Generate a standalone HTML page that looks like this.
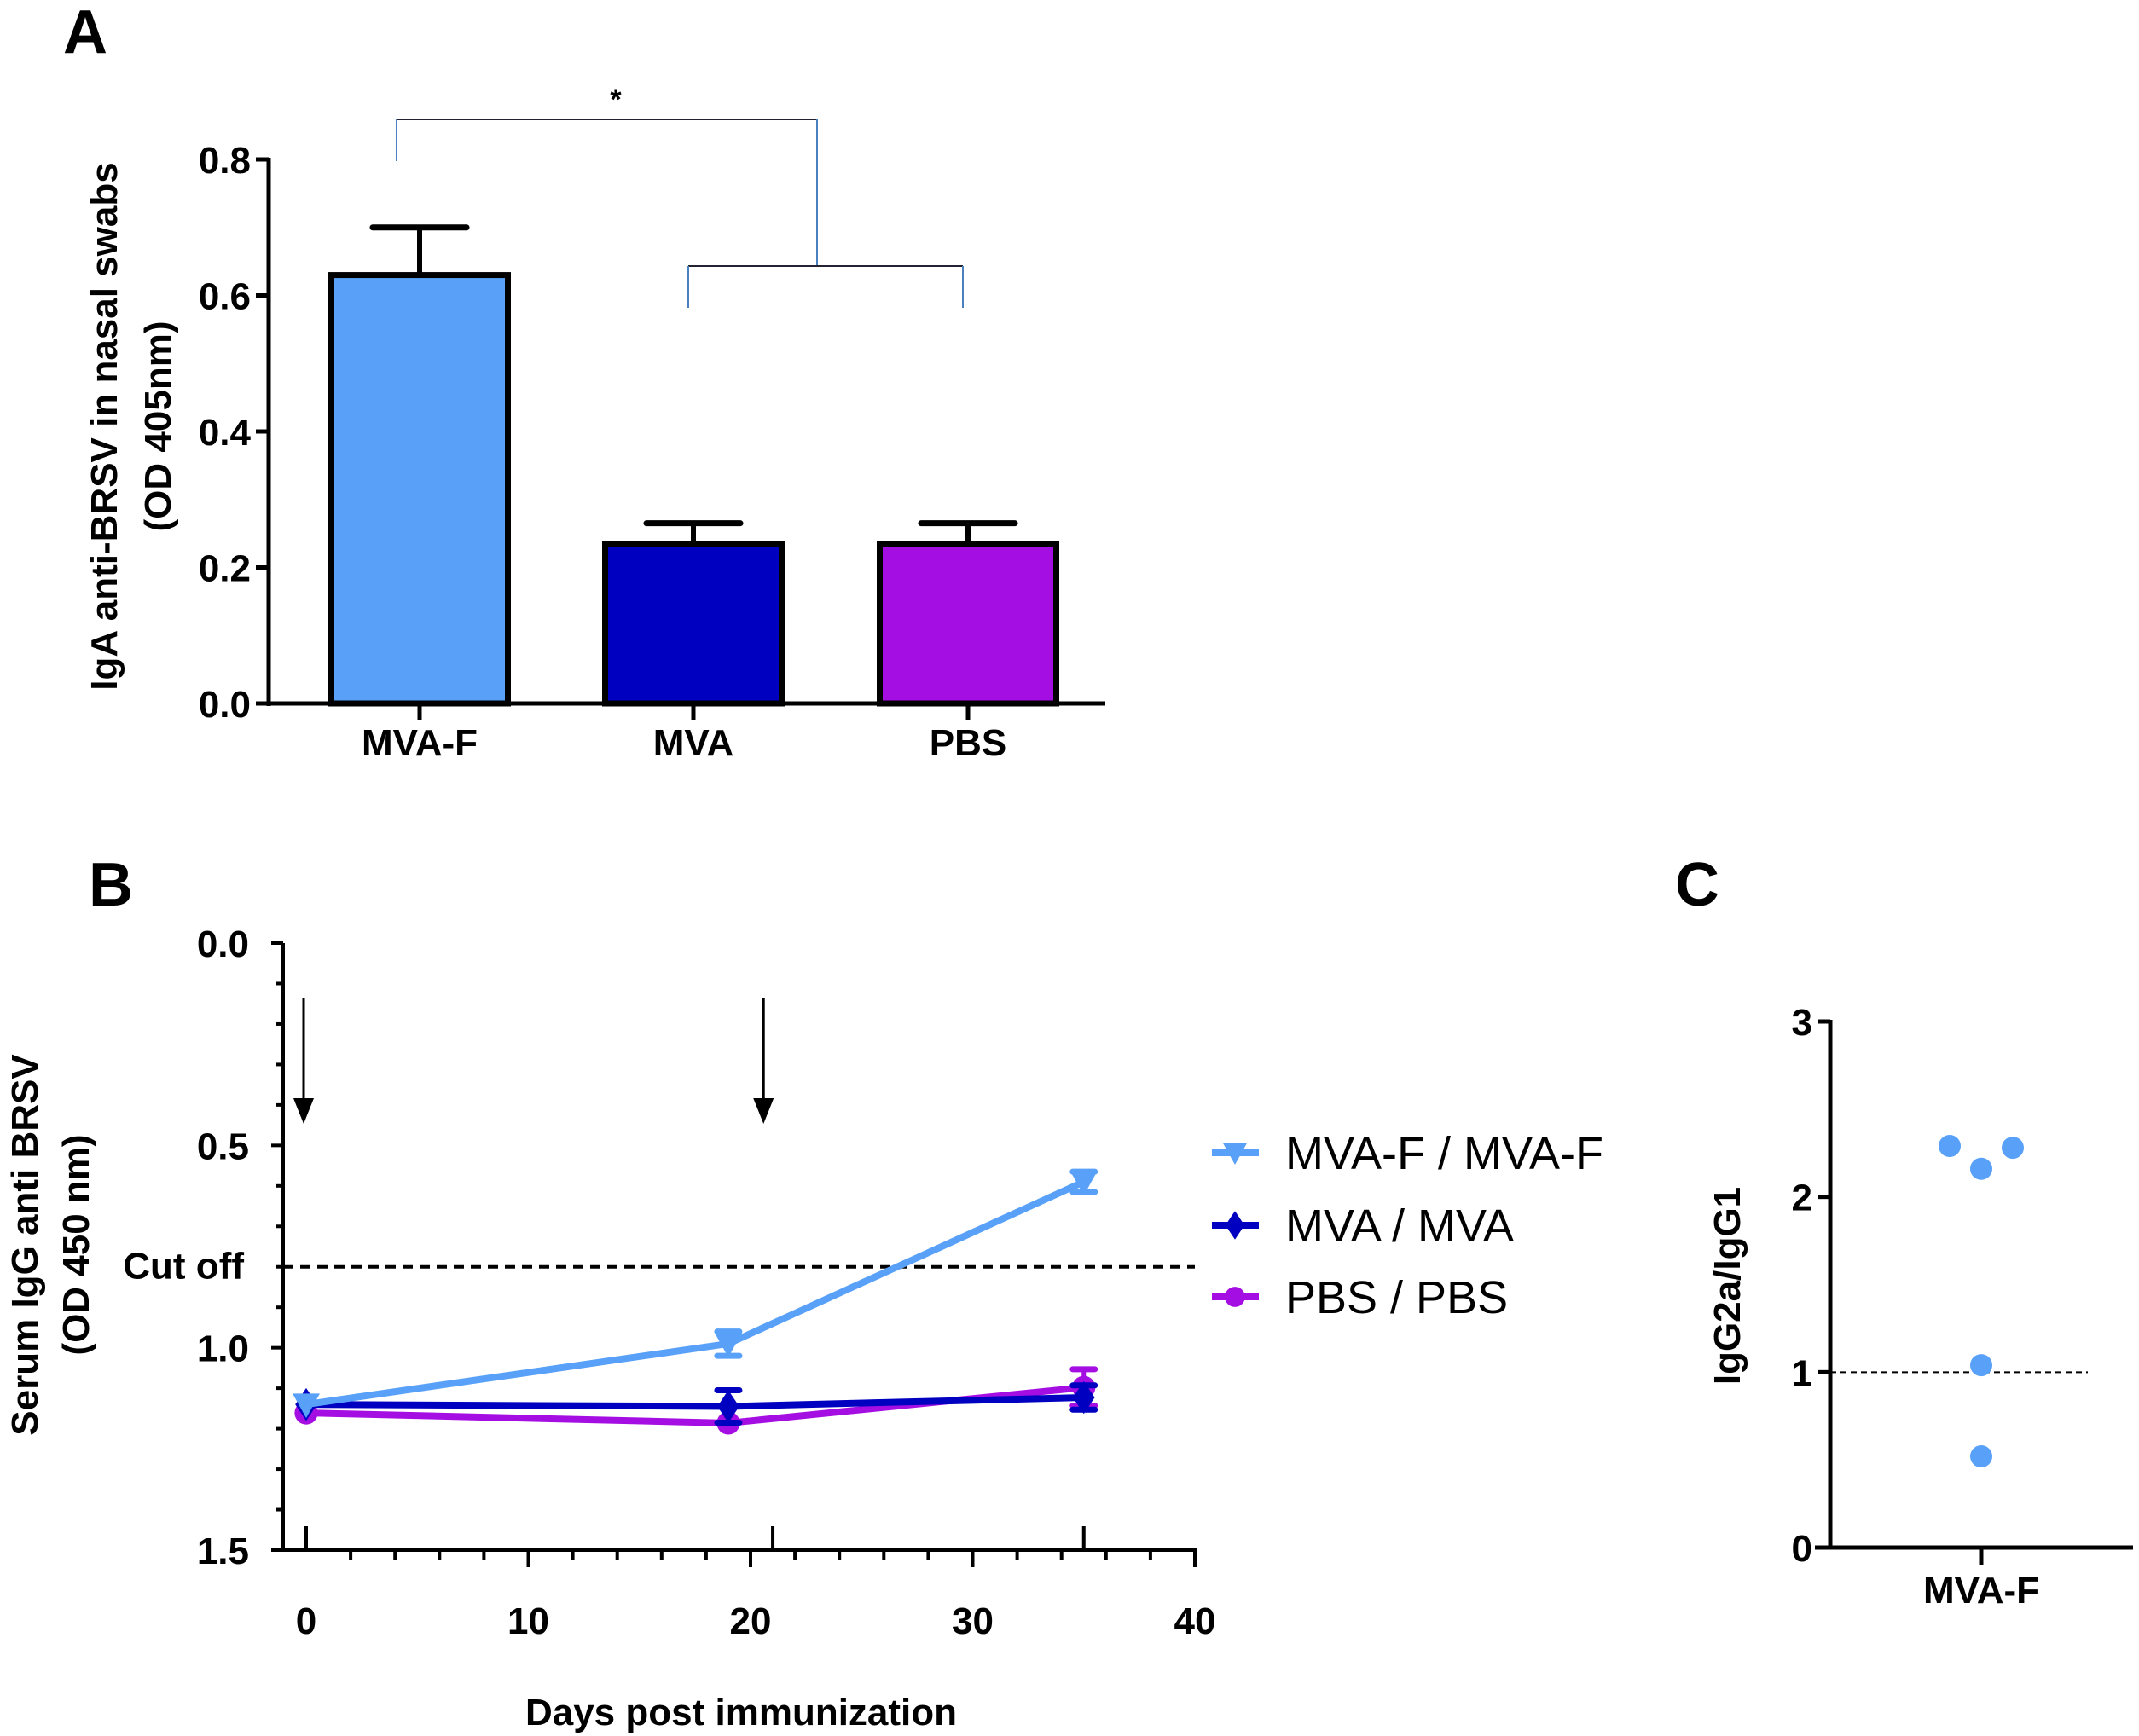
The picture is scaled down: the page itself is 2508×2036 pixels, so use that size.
<!DOCTYPE html>
<html><head><meta charset="utf-8"><style>
html,body{margin:0;padding:0;background:#fff;}
svg{display:block;font-family:"Liberation Sans",Arial,sans-serif;}
.t{font-weight:bold;font-size:44px;}
</style></head><body>
<svg id="fig" width="2508" height="2036" viewBox="0 0 2508 2036" xmlns="http://www.w3.org/2000/svg">
<g id="A"></g>
<g id="B"></g>
<g id="C"></g>
</svg>
<script>
// Panel A data
const aCategories=["MVA-F","MVA","PBS"];
const aMeans=[0.63,0.235,0.235];
const aErrors=[0.07,0.03,0.03];
const aTicks=[0,0.2,0.4,0.6,0.8];
const aTickLabels=["0.0","0.2","0.4","0.6","0.8"];
// Panel B data
const bDays=[0,19,35];
const bSeriesNames=["MVA-F / MVA-F","MVA / MVA","PBS / PBS"];
const bMvaF=[1.14,0.99,0.59];
const bMvaFErr=[0.005,0.03,0.025];
const bMva=[1.14,1.145,1.123];
const bMvaErr=[0.005,0.04,0.03];
const bPbs=[1.161,1.186,1.098];
const bPbsErr=[0.005,0.01,0.045];
const bCutoff=0.8;
const bXTicks=[0,10,20,30,40];
const bYTicks=[0,0.5,1.0,1.5];
const bYTickLabels=["0.0","0.5","1.0","1.5"];
const bArrowDays=[0,20.7];
// Panel C data
const cValues=[2.29,2.16,2.28,1.04,0.52];
const cJitter=[-1,0,1,0,0];
const cTicks=[0,1,2,3];
const cRef=1;

const NS="http://www.w3.org/2000/svg";
function mk(parent,tag,attrs,text){const e=document.createElementNS(NS,tag);for(const k in attrs)e.setAttribute(k,attrs[k]);if(text!==undefined)e.textContent=text;parent.appendChild(e);return e;}
const cols=["#58a0f8","#0000c0","#a50ee2"];

// ---------- Panel A ----------
(function(){
const g=document.getElementById('A');
const y=v=>825-v*(825-187)/0.8;
const cx=[492,813,1135], bw=215;
let e=mk(g,'text',{x:100,y:62,'font-size':72,'font-weight':'bold','text-anchor':'middle'},'A');

e=mk(g,'line',{x1:315,y1:185,x2:315,y2:828,stroke:'#000','stroke-width':5});

e=mk(g,'line',{x1:312,y1:825,x2:1296,y2:825,stroke:'#000','stroke-width':5});

aTicks.forEach((t,i)=>{
 mk(g,'line',{x1:300,y1:y(t),x2:315,y2:y(t),stroke:'#000','stroke-width':5});
 e=mk(g,'text',{x:294,y:y(t)+16,'text-anchor':'end',class:'t'},aTickLabels[i]);
 
});
aCategories.forEach((c,i)=>{
 const top=y(aMeans[i]);
 mk(g,'line',{x1:cx[i],y1:top,x2:cx[i],y2:y(aMeans[i]+aErrors[i]),stroke:'#000','stroke-width':6});
 mk(g,'line',{x1:cx[i]-55,y1:y(aMeans[i]+aErrors[i]),x2:cx[i]+55,y2:y(aMeans[i]+aErrors[i]),stroke:'#000','stroke-width':7,'stroke-linecap':'round'});
 e=mk(g,'rect',{x:cx[i]-bw/2+4,y:top,width:bw-8,height:825-top,fill:cols[i],stroke:'#000','stroke-width':7});
 
 mk(g,'line',{x1:cx[i],y1:825,x2:cx[i],y2:845,stroke:'#000','stroke-width':5});
 e=mk(g,'text',{x:cx[i],y:886,'text-anchor':'middle',class:'t'},c);
 
});
const bl='#4a7fc0';
mk(g,'line',{x1:465,y1:189,x2:465,y2:140,stroke:bl,'stroke-width':2});
mk(g,'line',{x1:465,y1:140,x2:958,y2:140,stroke:'#223','stroke-width':2});
mk(g,'line',{x1:958,y1:140,x2:958,y2:312,stroke:bl,'stroke-width':2});
mk(g,'line',{x1:807,y1:312,x2:1129,y2:312,stroke:'#223','stroke-width':2});
mk(g,'line',{x1:807,y1:312,x2:807,y2:361,stroke:bl,'stroke-width':2});
mk(g,'line',{x1:1129,y1:312,x2:1129,y2:361,stroke:bl,'stroke-width':2});
e=mk(g,'text',{x:722,y:128,'text-anchor':'middle','font-size':34,'font-weight':'bold'},'*');

e=mk(g,'text',{transform:'translate(137,500) rotate(-90)','text-anchor':'middle',class:'t','font-size':46},'IgA anti-BRSV in nasal swabs');

e=mk(g,'text',{transform:'translate(200,500) rotate(-90)','text-anchor':'middle',class:'t','font-size':46},'(OD 405nm)');

})();

// ---------- Panel B ----------
(function(){
const g=document.getElementById('B');
const x=d=>359+d*(1401-359)/40;
const y=v=>1106+v*(1818-1106)/1.5;
let e=mk(g,'text',{x:130,y:1062,'font-size':72,'font-weight':'bold','text-anchor':'middle'},'B');

e=mk(g,'line',{x1:332,y1:1106,x2:332,y2:1820,stroke:'#000','stroke-width':4});

e=mk(g,'line',{x1:320,y1:1818,x2:1403,y2:1818,stroke:'#000','stroke-width':4});

for(let v=0;v<=1.5001;v+=0.1){mk(g,'line',{x1:Math.abs(v*2-Math.round(v*2))<0.01?318:324,y1:y(v),x2:332,y2:y(v),stroke:'#000','stroke-width':4});}
bYTicks.forEach((t,i)=>{e=mk(g,'text',{x:292,y:y(t)+16,'text-anchor':'end',class:'t'},bYTickLabels[i]);
 });
for(let d=2;d<=40;d+=2){mk(g,'line',{x1:x(d),y1:1818,x2:x(d),y2:d%10===0?1838:1830,stroke:'#000','stroke-width':4});}
bXTicks.forEach(t=>{e=mk(g,'text',{x:x(t),y:1916,'text-anchor':'middle',class:'t'},String(t));
 });
[0,21,35].forEach(d=>mk(g,'line',{x1:x(d),y1:1790,x2:x(d),y2:1818,stroke:'#000','stroke-width':4}));
bArrowDays.forEach(d=>{mk(g,'line',{x1:x(d)-3,y1:1171,x2:x(d)-3,y2:1300,stroke:'#000','stroke-width':3});
 e=mk(g,'polygon',{points:`${x(d)-15},1288 ${x(d)+9},1288 ${x(d)-3},1318`,fill:'#000'});
 });
e=mk(g,'line',{x1:332,y1:y(bCutoff),x2:1401,y2:y(bCutoff),stroke:'#000','stroke-width':4,'stroke-dasharray':'12,8'});

e=mk(g,'text',{x:286,y:y(bCutoff)+14,'text-anchor':'end',class:'t','font-size':39},'Cut off');

const series=[bMvaF,bMva,bPbs], errs=[bMvaFErr,bMvaErr,bPbsErr], names=['mva-f','mva','pbs'];
function marker(p,k,cx,cy,s){
 if(k===0)return mk(p,'polygon',{points:`${cx-s},${cy-s*0.8} ${cx+s},${cy-s*0.8} ${cx},${cy+s}`,fill:cols[0]});
 if(k===1)return mk(p,'polygon',{points:`${cx},${cy-s*1.2} ${cx+s*0.8},${cy} ${cx},${cy+s*1.2} ${cx-s*0.8},${cy}`,fill:cols[1]});
 return mk(p,'circle',{cx:cx,cy:cy,r:s*0.85,fill:cols[2]});
}
[2,1,0].forEach(k=>{
 const s=series[k];
 e=mk(g,'polyline',{points:s.map((v,i)=>x(bDays[i])+','+y(v)).join(' '),fill:'none',stroke:cols[k],'stroke-width':8});
 
 s.forEach((v,i)=>{
  const lo=y(v-errs[k][i]),hi=y(v+errs[k][i]);
  mk(g,'line',{x1:x(bDays[i]),y1:lo,x2:x(bDays[i]),y2:hi,stroke:cols[k],'stroke-width':5});
  if(errs[k][i]>0.01){[lo,hi].forEach(yy=>mk(g,'line',{x1:x(bDays[i])-13,y1:yy,x2:x(bDays[i])+13,y2:yy,stroke:cols[k],'stroke-width':7,'stroke-linecap':'round'}));}
  e=marker(g,k,x(bDays[i]),y(v),16);
  
 });
});
e=mk(g,'text',{x:869,y:2023,'text-anchor':'middle',class:'t','font-size':40},'Days post immunization');

e=mk(g,'text',{transform:'translate(44,1460) rotate(-90)','text-anchor':'middle',class:'t','font-size':47},'Serum IgG anti BRSV');

e=mk(g,'text',{transform:'translate(104,1460) rotate(-90)','text-anchor':'middle',class:'t','font-size':47},'(OD 450 nm)');

const ly=[1352,1437,1521];
bSeriesNames.forEach((n,k)=>{
 const lg=mk(g,'g',{});
 
 mk(lg,'line',{x1:1421,y1:ly[k],x2:1476,y2:ly[k],stroke:cols[k],'stroke-width':8});
 marker(lg,k,1448,ly[k],14);
 mk(lg,'text',{x:1507,y:ly[k]+19,'font-size':54},n);
});
})();

// ---------- Panel C ----------
(function(){
const g=document.getElementById('C');
const y=v=>1815-v*(1815-1198)/3;
let e=mk(g,'text',{x:1990,y:1062,'font-size':72,'font-weight':'bold','text-anchor':'middle'},'C');

e=mk(g,'line',{x1:2146,y1:1196,x2:2146,y2:1817,stroke:'#000','stroke-width':5});

e=mk(g,'line',{x1:2128,y1:1815,x2:2501,y2:1815,stroke:'#000','stroke-width':5});

cTicks.forEach(t=>{mk(g,'line',{x1:2132,y1:y(t),x2:2146,y2:y(t),stroke:'#000','stroke-width':5});
 e=mk(g,'text',{x:2125,y:y(t)+16,'text-anchor':'end',class:'t'},String(t));
 });
mk(g,'line',{x1:2323,y1:1815,x2:2323,y2:1835,stroke:'#000','stroke-width':5});
e=mk(g,'text',{x:2323,y:1880,'text-anchor':'middle',class:'t'},'MVA-F');

e=mk(g,'line',{x1:2146,y1:y(cRef),x2:2448,y2:y(cRef),stroke:'#000','stroke-width':2,'stroke-dasharray':'7,5'});

cValues.forEach((v,i)=>{e=mk(g,'circle',{cx:2323+cJitter[i]*37,cy:y(v),r:13,fill:cols[0]});
 });
e=mk(g,'text',{transform:'translate(2040,1508) rotate(-90)','text-anchor':'middle',class:'t','font-size':44},'IgG2a/IgG1');

})();
</script>
</body></html>
